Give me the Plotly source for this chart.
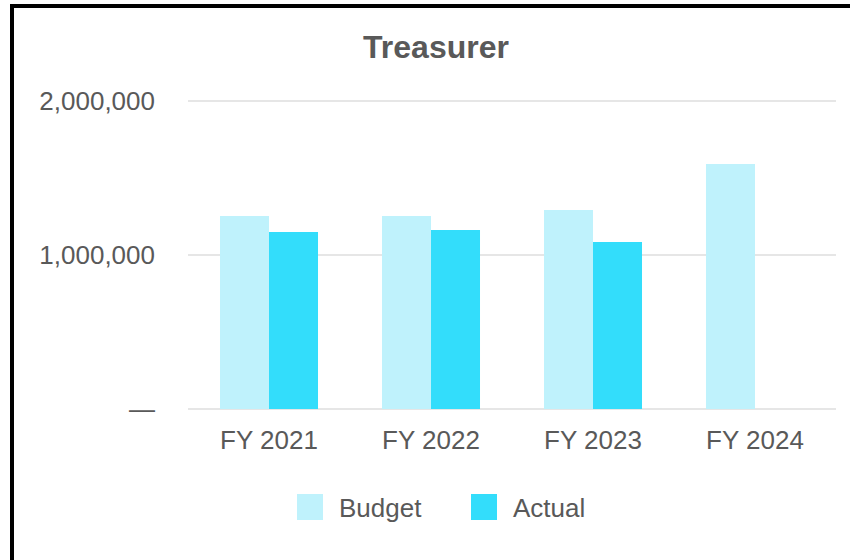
import plotly.graph_objects as go

# Fiscal-year budget vs. actual spending for the Treasurer
categories = ["FY 2021", "FY 2022", "FY 2023", "FY 2024"]
budget = [1253000, 1253000, 1292000, 1591000]
actual = [1149000, 1162000, 1084000, None]

series_names = ["Budget", "Actual"]
series_colors = ["#BFF2FC", "#33DDFB"]

y_tick_vals = [0, 1000000, 2000000]
y_tick_text = ["—", "1,000,000", "2,000,000"]
y_max = 2020000

W, H = 850, 560
L, R, T, B = 188, 836, 98, 409   # plot area in pixels
FONT = "Liberation Sans, Arial, sans-serif"
TEXT_COLOR = "#595959"


def px_x(px):
    return (px - L) / (R - L)


def px_y(py):
    return (B - py) / (B - T)


fig = go.Figure()
for name, vals, color in zip(series_names, [budget, actual], series_colors):
    fig.add_trace(go.Bar(
        x=categories, y=vals, name=name,
        marker=dict(color=color, line=dict(width=0)),
        showlegend=False,
    ))

fig.update_layout(
    width=W, height=H,
    margin=dict(l=L, r=W - R, t=T, b=H - B, pad=0),
    paper_bgcolor="white", plot_bgcolor="white",
    barmode="group", bargap=0.395, bargroupgap=0,
    font=dict(family=FONT, size=26, color=TEXT_COLOR),
    title=dict(
        text="<b>Treasurer</b>",
        font=dict(family=FONT, size=32, color=TEXT_COLOR),
        x=436 / W, xanchor="center", xref="container",
        y=1 - 47 / H, yanchor="middle", yref="container",
    ),
    xaxis=dict(
        showgrid=False, zeroline=False, showline=False, ticks="",
        ticklabelstandoff=13,
        tickfont=dict(size=26, color=TEXT_COLOR),
    ),
    yaxis=dict(
        range=[0, y_max],
        tickvals=y_tick_vals, ticktext=y_tick_text,
        showgrid=True, gridcolor="#E6E6E6", gridwidth=2,
        zeroline=True, zerolinecolor="#E6E6E6", zerolinewidth=2,
        showline=False, ticks="",
        ticklabelstandoff=32,
        tickfont=dict(size=26, color=TEXT_COLOR),
    ),
)

# Legend drawn as swatches plus labels
legend_swatch_x = [297, 471]
legend_text_x = [337, 511]
sw = 26
sy0, sy1 = 494, 520
for name, color, sx, tx in zip(series_names, series_colors, legend_swatch_x, legend_text_x):
    fig.add_shape(type="rect", xref="paper", yref="paper",
                  x0=px_x(sx), x1=px_x(sx + sw), y0=px_y(sy1), y1=px_y(sy0),
                  fillcolor=color, line=dict(width=0), layer="above")
    fig.add_annotation(text=name, xref="paper", yref="paper",
                       x=px_x(tx), y=px_y(508), xanchor="left", yanchor="middle",
                       showarrow=False,
                       font=dict(family=FONT, size=26, color=TEXT_COLOR))

# Black frame along the top and left edges
fig.add_shape(type="rect", xref="paper", yref="paper",
              x0=px_x(12), x1=px_x(W + 40), y0=px_y(H + 40), y1=px_y(6),
              line=dict(color="black", width=4), fillcolor="rgba(0,0,0,0)",
              layer="above")

fig.write_html("out.html")
